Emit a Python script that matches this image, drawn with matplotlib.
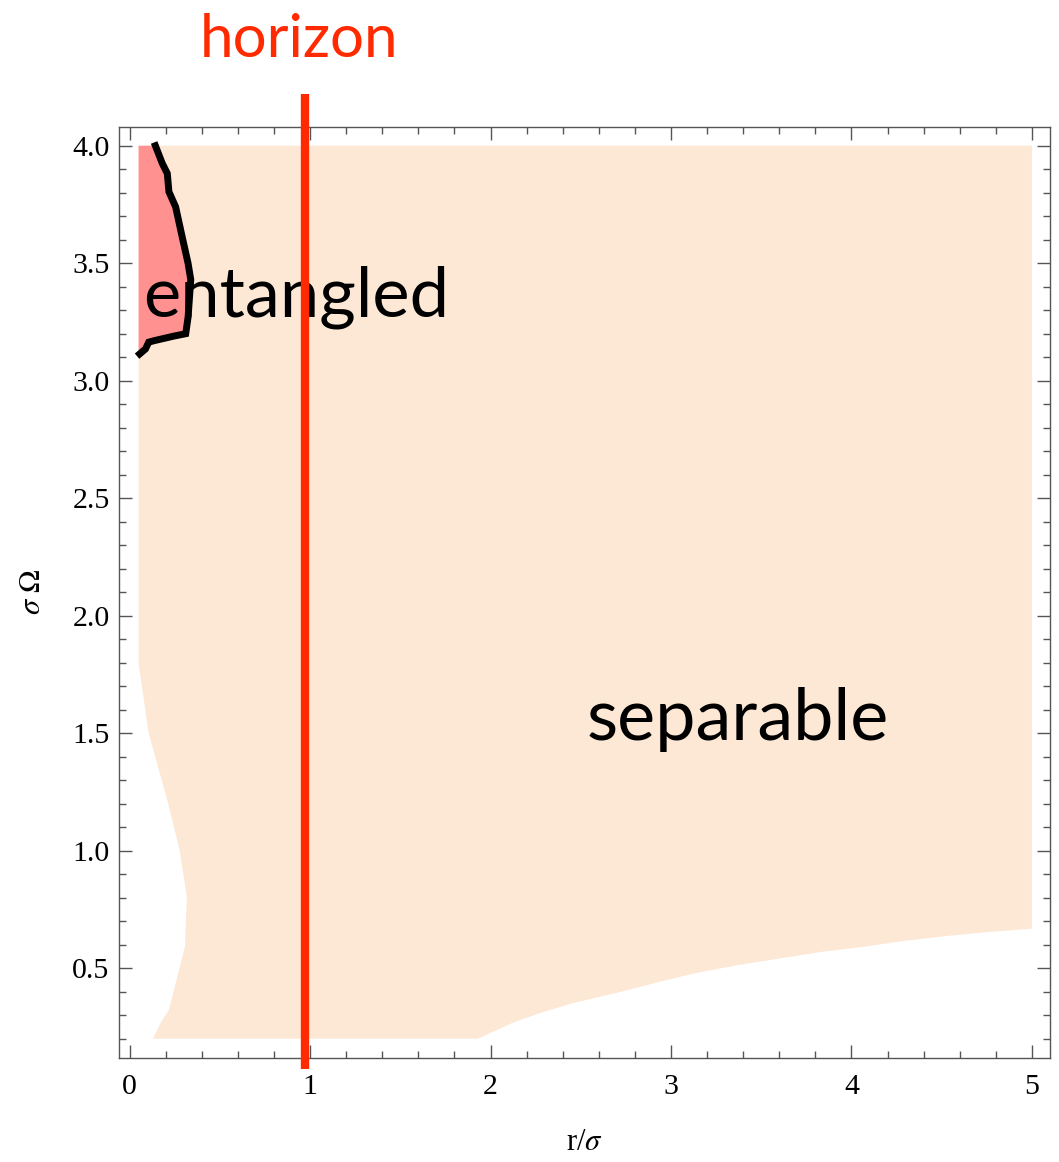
import matplotlib
matplotlib.use("Agg")
import matplotlib.pyplot as plt
from matplotlib.ticker import MultipleLocator

plt.rcParams['font.family'] = ['Liberation Serif', 'DejaVu Serif']
plt.rcParams['mathtext.fontset'] = 'stix'

# ---- data ----
# separable region (polygon outline, r/sigma vs sigma*Omega)
sep_x = [0.05, 5.0, 5.0, 4.76, 4.53, 4.29, 4.06, 3.83, 3.60, 3.37, 3.13, 2.90,
         2.71, 2.45, 2.29, 2.13, 1.93, 0.13, 0.171, 0.218, 0.307, 0.317, 0.277,
         0.209, 0.106, 0.05]
sep_y = [4.0, 4.0, 0.668, 0.654, 0.637, 0.616, 0.59, 0.569, 0.541, 0.513, 0.478,
         0.435, 0.397, 0.35, 0.313, 0.27, 0.2, 0.2, 0.266, 0.323, 0.592, 0.805,
         1.003, 1.215, 1.499, 1.796]

# entangled region boundary (black curve)
ent_x = [0.143, 0.181, 0.209, 0.218, 0.255, 0.292, 0.324, 0.339, 0.324, 0.311,
         0.246, 0.19, 0.134, 0.106, 0.088, 0.056]
ent_y = [4.0, 3.925, 3.882, 3.804, 3.74, 3.61, 3.50, 3.43, 3.27, 3.20,
         3.19, 3.18, 3.17, 3.164, 3.135, 3.114]

horizon_r = 0.974

x_ticks = [0, 1, 2, 3, 4, 5]
y_ticks = [0.5, 1.0, 1.5, 2.0, 2.5, 3.0, 3.5, 4.0]
x_tick_labels = ['0', '1', '2', '3', '4', '5']
y_tick_labels = ['0.5', '1.0', '1.5', '2.0', '2.5', '3.0', '3.5', '4.0']

labels = {'horizon': 'horizon', 'ent': 'entangled', 'sep': 'separable'}

# ---- figure ----
W, H = 1059, 1162
fig = plt.figure(figsize=(W / 100, H / 100), dpi=100)
ax = fig.add_axes([119.3 / W, 1 - 1057.7 / H, (1050 - 119.3) / W, (1057.7 - 126.7) / H])
ax.set_xlim(-0.057, 5.10)
ax.set_ylim(0.119, 4.081)

ax.fill(sep_x, sep_y, color='#FDE8D5', lw=0, zorder=1)
ent_fill_x = [0.05] + ent_x + [0.05]
ent_fill_y = [4.0] + ent_y + [3.11]
ax.fill(ent_fill_x, ent_fill_y, color='#FF9191', lw=0, zorder=2)
ax.plot(ent_x, ent_y, color='black', lw=5.0, solid_joinstyle='miter', zorder=4)

ax.plot([horizon_r, horizon_r], [0.071, 4.219], color='#FF2A00', lw=6.0,
        solid_capstyle='butt', clip_on=False, zorder=5)

sans = ['Lato', 'DejaVu Sans']
t_ent = ax.text(0.076, 3.272, labels['ent'], family=sans, fontsize=50,
                ha='left', va='baseline', color='black', zorder=3)
t_sep = ax.text(2.534, 1.471, labels['sep'], family=sans, fontsize=50,
                ha='left', va='baseline', color='black', zorder=3)
t_hor = ax.text(0.937, 4.379, labels['horizon'], family=sans, fontsize=42,
                ha='center', va='baseline', color='#FF2A00', clip_on=False, zorder=6)

# fit text widths to the reference
fig.canvas.draw()
r = fig.canvas.get_renderer()
for t, target in [(t_ent, 306), (t_sep, 302), (t_hor, 199)]:
    w = t.get_window_extent(r).width
    t.set_fontsize(t.get_fontsize() * target / w)

ax.set_xticks(x_ticks)
ax.set_xticklabels(x_tick_labels)
ax.set_yticks(y_ticks)
ax.set_yticklabels(y_tick_labels)
ax.xaxis.set_minor_locator(MultipleLocator(0.2))
ax.yaxis.set_minor_locator(MultipleLocator(0.1))
ax.tick_params(which='both', direction='in', top=True, right=True, color='#555555',
               width=1.0, labelsize=21.5, labelcolor='black')
ax.tick_params(which='major', length=9.3)
ax.tick_params(which='minor', length=5.0)
ax.tick_params(axis='x', which='major', pad=12)
ax.tick_params(axis='y', which='major', pad=7)
for s in ax.spines.values():
    s.set_color('#555555')
    s.set_linewidth(1.0)

ax.set_xlabel(r'r/$\sigma$', fontsize=22, labelpad=20)
ax.set_ylabel(r'$\sigma\ \Omega$', fontsize=22, labelpad=18)

fig.savefig('out.png', dpi=100)
